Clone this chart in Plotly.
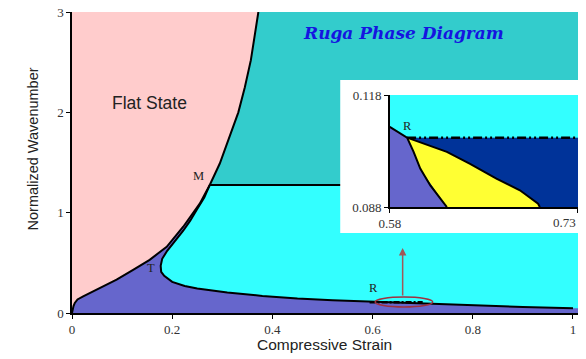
import plotly.graph_objects as go

# ---- data ----
flat_x = [0, 0.001, 0.003, 0.0056, 0.011, 0.0223, 0.0556, 0.089, 0.122, 0.155, 0.189, 0.222, 0.255, 0.275,
          0.295, 0.31, 0.332, 0.345, 0.357, 0.372]
flat_y = [0, 0.03, 0.07, 0.10, 0.135, 0.166, 0.249, 0.332, 0.43, 0.53, 0.66, 0.86, 1.09, 1.276,
          1.49, 1.70, 2.00, 2.25, 2.52, 3.00]
t_x = [0.275, 0.264, 0.249, 0.236, 0.222, 0.205, 0.19, 0.18, 0.177, 0.178, 0.184, 0.20, 0.225, 0.25, 0.28,
       0.31, 0.38, 0.45, 0.52, 0.60, 0.70, 0.80, 0.90, 1.0]
t_y = [1.276, 1.15, 1.03, 0.92, 0.82, 0.71, 0.62, 0.54, 0.47, 0.41, 0.37, 0.31, 0.27, 0.245, 0.222,
       0.205, 0.17, 0.145, 0.128, 0.113, 0.092, 0.075, 0.06, 0.047]
m_level = 1.276
r_level = 0.1066

# inset data
in_purple_x = [0.58, 0.58, 0.5938, 0.599, 0.6043, 0.6123, 0.6255]
in_purple_y = [0.088, 0.1095, 0.1066, 0.1028, 0.0983, 0.0938, 0.088]
in_yellow_x = [0.5938, 0.6255, 0.644, 0.665, 0.6837, 0.6982, 0.6996]
in_yellow_y = [0.1066, 0.1028, 0.0996, 0.0956, 0.0925, 0.0889, 0.088]

PINK = "#FFCCCC"
TEAL = "#33CCCC"
CYAN = "#33FFFF"
PURPLE = "#6666CC"
NAVY = "#003399"
YELLOW = "#FFFF33"
XMAX = 1.01

fig = go.Figure()

im = flat_y.index(1.276)
# purple: right of flat boundary, below M level
px_ = flat_x[:im + 1] + [XMAX, XMAX]
py_ = flat_y[:im + 1] + [m_level, 0]
fig.add_trace(go.Scatter(x=px_, y=py_, fill="toself", fillcolor=PURPLE, mode="none", hoverinfo="skip"))
# cyan: inside T curve
cx = t_x + [XMAX, XMAX]
cy = t_y + [0.047, m_level]
fig.add_trace(go.Scatter(x=cx, y=cy, fill="toself", fillcolor=CYAN, mode="none", hoverinfo="skip"))
# pink: left of flat boundary
fig.add_trace(go.Scatter(x=flat_x + [0], y=flat_y + [3], fill="toself", fillcolor=PINK, mode="none",
                         hoverinfo="skip"))
# lines
fig.add_trace(go.Scatter(x=flat_x, y=flat_y, mode="lines", line=dict(color="black", width=2), hoverinfo="skip"))
fig.add_trace(go.Scatter(x=t_x, y=t_y, mode="lines", line=dict(color="black", width=2), hoverinfo="skip"))
fig.add_trace(go.Scatter(x=[0.275, XMAX], y=[m_level, m_level], mode="lines",
                         line=dict(color="black", width=2), hoverinfo="skip"))
fig.add_trace(go.Scatter(x=[0.594, 0.70], y=[0.107, 0.107], mode="lines",
                         line=dict(color="black", width=2.5, dash="6px,2px,2px,2px"), hoverinfo="skip"))
# white inset box (on main axes)
bx0, bx1, by0, by1 = 0.5354, XMAX, 0.798, 2.323
fig.add_trace(go.Scatter(x=[bx0, bx1, bx1, bx0, bx0], y=[by0, by0, by1, by1, by0], fill="toself",
                         fillcolor="white", mode="none", hoverinfo="skip"))

# inset traces
fig.add_trace(go.Scatter(x=[0.58, 0.73, 0.73, 0.58], y=[r_level, r_level, 0.118, 0.118], fill="toself",
                         fillcolor=CYAN, mode="none", xaxis="x2", yaxis="y2", hoverinfo="skip"))
fig.add_trace(go.Scatter(x=[0.58, 0.73, 0.73, 0.58], y=[0.088, 0.088, r_level, r_level], fill="toself",
                         fillcolor=NAVY, mode="none", xaxis="x2", yaxis="y2", hoverinfo="skip"))
fig.add_trace(go.Scatter(x=in_yellow_x + [0.6255, 0.604], y=in_yellow_y + [0.088, 0.0983], fill="toself",
                         fillcolor=YELLOW, mode="none", xaxis="x2", yaxis="y2", hoverinfo="skip"))
fig.add_trace(go.Scatter(x=in_purple_x, y=in_purple_y, fill="toself", fillcolor=PURPLE, mode="none",
                         xaxis="x2", yaxis="y2", hoverinfo="skip"))
fig.add_trace(go.Scatter(x=in_purple_x[1:], y=in_purple_y[1:], mode="lines", line=dict(color="black", width=2),
                         xaxis="x2", yaxis="y2", hoverinfo="skip"))
fig.add_trace(go.Scatter(x=in_yellow_x, y=in_yellow_y, mode="lines", line=dict(color="black", width=2),
                         xaxis="x2", yaxis="y2", hoverinfo="skip"))
fig.add_trace(go.Scatter(x=[0.5938, 0.73], y=[r_level, r_level], mode="lines",
                         line=dict(color="black", width=2.5, dash="9px,3px,2px,3px,2px,3px"),
                         xaxis="x2", yaxis="y2", hoverinfo="skip"))

serif = "Liberation Serif"
sans = "Liberation Sans"
common = dict(showgrid=False, zeroline=False, showline=True, linecolor="black", linewidth=1.5,
              ticks="outside", ticklen=4, tickcolor="black", automargin=False,
              ticklabeloverflow="allow", tickfont=dict(family=serif, size=13, color="#333"))

fig.update_layout(
    width=586, height=359, showlegend=False,
    margin=dict(l=71.5, r=8, t=12, b=46, autoexpand=False),
    paper_bgcolor="white", plot_bgcolor=TEAL,
    xaxis=dict(range=[0, XMAX], tickvals=[0, 0.2, 0.4, 0.6, 0.8, 1], ticktext=["0", "0.2", "0.4", "0.6", "0.8", "1"],
               **common),
    yaxis=dict(range=[0, 3], tickvals=[0, 1, 2, 3], **common),
    xaxis2=dict(domain=[0.628, 1.0], anchor="y2", range=[0.58, 0.73], tickvals=[0.58, 0.73],
                ticktext=["0.58", ""], **common),
    yaxis2=dict(domain=[0.352, 0.724], anchor="x2", range=[0.088, 0.118], tickvals=[0.088, 0.118],
                ticktext=["0.088", "0.118"], **common),
    shapes=[dict(type="circle", xref="x", yref="y", x0=0.605, x1=0.72, y0=0.06, y1=0.16,
                 line=dict(color="#A03040", width=1.5), layer="above")],
    annotations=[
        dict(text="Compressive Strain", x=0.4985, y=-0.104, xref="paper", yref="paper",
             xanchor="center", yanchor="middle", showarrow=False,
             font=dict(family=sans, size=15.5, color="#222")),
        dict(text="Normalized Wavenumber", x=-0.078, y=0.545, xref="paper", yref="paper", textangle=-90,
             xanchor="center", yanchor="middle", showarrow=False,
             font=dict(family=sans, size=14.5, color="#222")),
        dict(text="Flat State", x=0.1555, y=2.09, xref="x", yref="y", showarrow=False,
             font=dict(family=sans, size=17.5, color="#222")),
        dict(text="M", x=0.252, y=1.366, xref="x", yref="y", showarrow=False,
             font=dict(family=serif, size=12.5, color="#222")),
        dict(text="T", x=0.1585, y=0.449, xref="x", yref="y", showarrow=False,
             font=dict(family=serif, size=12.5, color="#222")),
        dict(text="R", x=0.601, y=0.249, xref="x", yref="y", showarrow=False,
             font=dict(family=serif, size=12.5, color="#222")),
        dict(text="R", x=0.5943, y=0.1098, xref="x2", yref="y2", showarrow=False,
             font=dict(family=serif, size=12.5, color="#222")),
        dict(text="0.73", x=1.0, y=0.302, xref="paper", yref="paper", xanchor="right", yanchor="middle",
             showarrow=False, font=dict(family=serif, size=13, color="#333")),
        dict(text="", x=0.66, y=0.648, ax=0.66, ay=0.16, xref="x", yref="y", axref="x", ayref="y",
             showarrow=True, arrowhead=2, arrowsize=1, arrowwidth=1.5, arrowcolor="#A05858"),
        dict(text="<b><i>Ruga Phase Diagram</i></b>", x=0.6545, y=0.93, xref="paper", yref="paper",
             xanchor="center", yanchor="middle",
             showarrow=False, font=dict(family="DejaVu Serif", size=17, color="#1515E0")),
    ],
)

fig.write_html("out.html", config={"displayModeBar": False},
               post_script="document.body.style.margin='0';document.body.style.overflow='hidden';")
